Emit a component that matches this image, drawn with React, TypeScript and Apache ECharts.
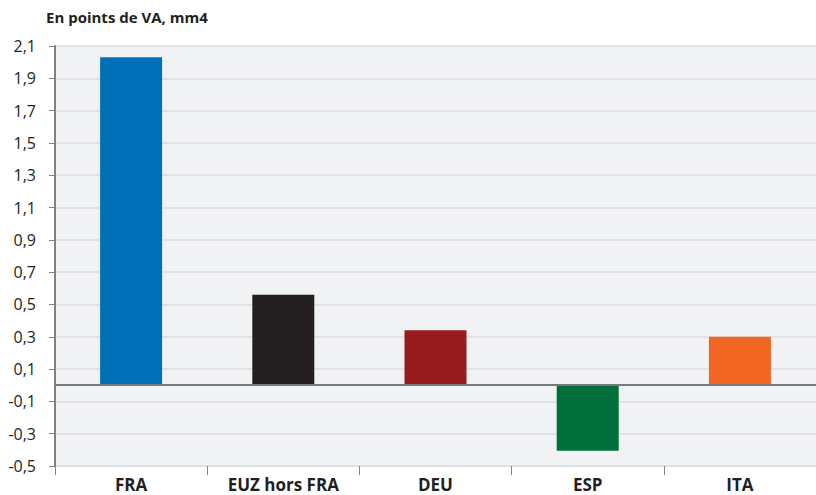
import React, { useEffect, useRef } from "react";
import * as echarts from "echarts";

const categories = ["FRA", "EUZ hors FRA", "DEU", "ESP", "ITA"];
const values = [2.03, 0.56, 0.34, -0.405, 0.3];
const barColors = ["#0070b8", "#231f20", "#981b1e", "#006f3b", "#f26522"];
const yMin = -0.5;
const yMax = 2.1;
const yStep = 0.2;
const title = "En points de VA, mm4";

export default function App() {
  const ref = useRef<HTMLDivElement>(null);
  useEffect(() => {
    if (!ref.current) return;
    const chart = echarts.init(ref.current, undefined, { renderer: "svg" });
    const font = "'Open Sans', 'DejaVu Sans', sans-serif";
    chart.setOption({
      animation: false,
      backgroundColor: "#ffffff",
      title: {
        text: title,
        left: 46,
        top: 9,
        padding: 0,
        textStyle: { fontFamily: font, fontSize: 15, fontWeight: "bold", color: "#231f20" },
      },
      grid: {
        left: 55,
        right: -9,
        top: 46,
        bottom: 29,
        show: true,
        backgroundColor: "#f1f2f4",
        borderWidth: 0,
      },
      xAxis: {
        type: "category",
        data: categories,
        axisLine: { show: true, onZero: false, lineStyle: { color: "#dcdde0", width: 1 } },
        axisTick: { show: true, length: 9, lineStyle: { color: "#808080", width: 1 } },
        axisLabel: {
          margin: 10,
          fontFamily: font,
          fontSize: 17,
          fontWeight: "bold",
          color: "#231f20",
        },
        splitLine: { show: false },
      },
      yAxis: [
        {
          type: "value",
          min: yMin,
          max: yMax,
          axisLine: { show: false },
          axisTick: { show: false },
          axisLabel: { show: false },
          splitLine: { show: false },
        },
        {
          type: "value",
          position: "left",
          min: 0,
          max: yMax - yMin,
          interval: yStep,
          axisLine: { show: true, lineStyle: { color: "#808080", width: 2 } },
          axisTick: { show: true, length: 6, lineStyle: { color: "#808080", width: 1 } },
          axisLabel: {
            margin: 19,
            fontFamily: font,
            fontSize: 16,
            color: "#231f20",
            formatter: (v: number) => (v + yMin).toFixed(1).replace(".", ",").replace("-0,0", "0,0"),
          },
          splitLine: { show: true, lineStyle: { color: "#dcdde0", width: 1.5 } },
        },
      ],
      series: [
        {
          type: "bar",
          yAxisIndex: 0,
          data: values.map((v, i) => ({ value: v, itemStyle: { color: barColors[i] } })),
          barWidth: 62,
          markLine: {
            silent: true,
            symbol: "none",
            label: { show: false },
            lineStyle: { color: "#77787b", width: 2, type: "solid" },
            data: [{ yAxis: 0 }],
          },
        },
      ],
    });
    return () => chart.dispose();
  }, []);
  return <div ref={ref} style={{ width: 816, height: 495, position: "absolute", left: 0, top: 0 }} />;
}
